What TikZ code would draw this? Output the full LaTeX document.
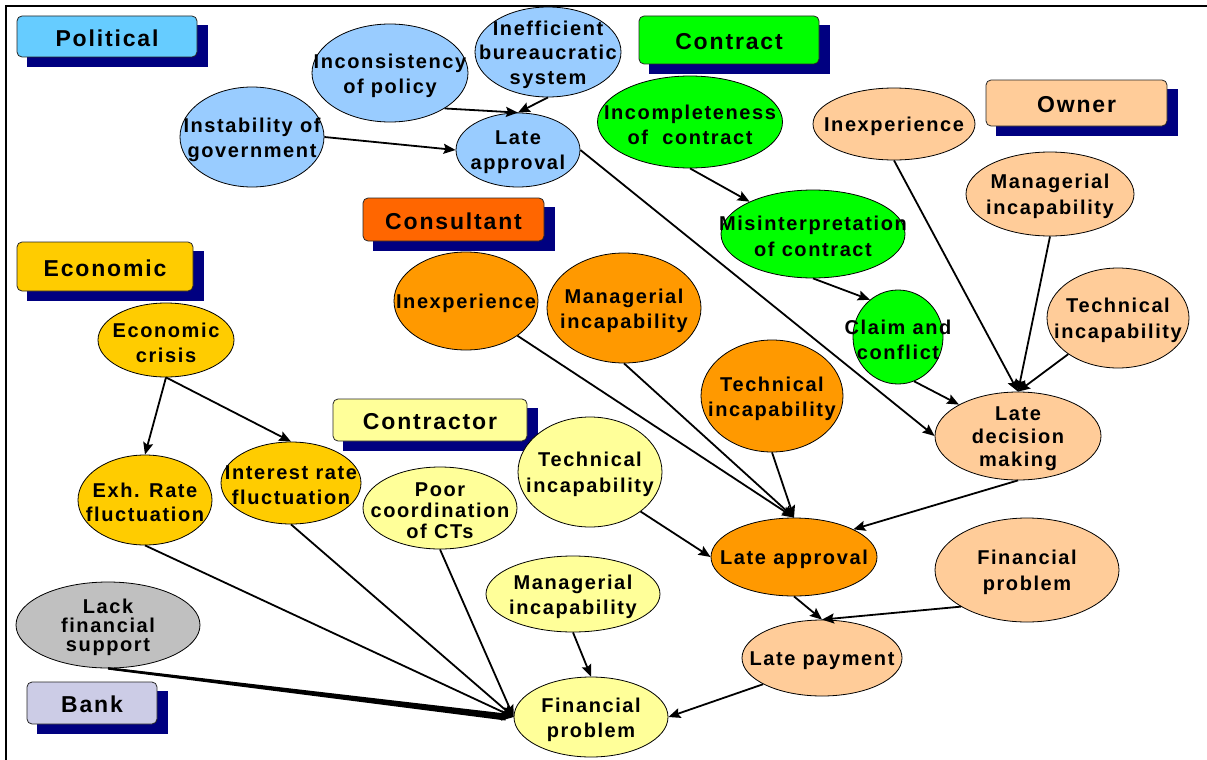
\documentclass[tikz,border=0pt]{standalone}
\usepackage{fontspec}
\setmainfont{Liberation Sans}[LetterSpace=8]
\usetikzlibrary{arrows.meta,shapes.geometric,calc}

\definecolor{navy}{HTML}{000080}
\definecolor{polhdr}{HTML}{66CCFF}
\definecolor{polfill}{HTML}{99CCFF}
\definecolor{contractfill}{HTML}{00FF00}
\definecolor{ownerfill}{HTML}{FFCC99}
\definecolor{conshdr}{HTML}{FF6600}
\definecolor{consfill}{HTML}{FF9900}
\definecolor{econfill}{HTML}{FFCC00}
\definecolor{ctorfill}{HTML}{FFFF99}
\definecolor{bankhdr}{HTML}{CCCCE6}
\definecolor{bankfill}{HTML}{C0C0C0}

% category header: name, colour, x1, y1, x2, y2, text
\newcommand\header[7]{%
  \fill[navy] (#3+10,#4+9) rectangle (#5+11,#6+10);
  \node[hdr, fill=#2, minimum width=#5pt-#3pt, minimum height=#6pt-#4pt,
    label={[htxt]center:#7}] (#1) at ({(#3+#5)/2},{(#4+#6)/2}) {};}

% factor bubble: [text options] name, colour, centre, width, height, text
\newcommand\bubble[7][]{%
  \node[oval, fill=#3, minimum width=#5pt, minimum height=#6pt,
    label={[txt,#1]center:#7}] (#2) at (#4) {};}

\begin{document}
\begin{tikzpicture}[x=1pt,y=-1pt,
  hdr/.style={draw=black!85, line width=0.8pt, rounded corners=5pt, inner sep=0pt},
  htxt/.style={inner sep=0pt, yshift=-1.5pt, font=\fontsize{23}{27}\selectfont\bfseries},
  oval/.style={ellipse, draw=black, line width=0.8pt, inner sep=0pt},
  txt/.style={align=center, inner sep=0pt, yshift=-2.5pt,
    font=\fontsize{20}{25}\selectfont\bfseries},
  arr/.style={line width=1.8pt, -{Stealth[length=12pt,width=10pt,inset=2pt]}},
  ]
\useasboundingbox (0,0) rectangle (1207,760);
\draw[line width=2pt] (1207,6) -- (6,6) -- (6,760);

% headers
\header{hpol}{polhdr}{17}{16}{197}{57}{Political}
\header{hcontract}{contractfill}{639}{16}{819}{64}{Contract}
\header{howner}{ownerfill}{986}{80}{1167}{126}{Owner}
\header{hcons}{conshdr}{363}{198}{544}{241}{Consultant}
\header{hecon}{econfill}{17}{242}{193}{291}{Economic}
\header{hctor}{ctorfill}{333}{399}{527}{441}{Contractor}
\header{hbank}{bankhdr}{27}{682}{157}{724}{Bank}

% political
\bubble{incon}{polfill}{390,73}{156}{98}{Inconsistency\\of policy}
\bubble[font=\fontsize{20}{24.5}\selectfont\bfseries]{ineff}{polfill}{548,52}{146}{90}{Inefficient\\bureaucratic\\system}
\bubble{instab}{polfill}{252,137}{144}{100}{Instability of\\government}
\bubble{lap}{polfill}{518,150}{124}{74}{Late\\approval}

% contract
\bubble{incomp}{contractfill}{690,122}{185}{92}{Incompleteness\\of\ \ contract}
\bubble[font=\fontsize{20}{26}\selectfont\bfseries]{misint}{contractfill}{813,234}{184}{88}{Misinterpretation\\of contract}
\bubble{claim}{contractfill}{898,337}{90}{94}{Claim and\\conflict}

% owner
\bubble{oinexp}{ownerfill}{894,124}{162}{72}{Inexperience}
\bubble[font=\fontsize{20}{26}\selectfont\bfseries]{omanag}{ownerfill}{1050,194}{168}{84}{Managerial\\incapability}
\bubble[font=\fontsize{20}{26}\selectfont\bfseries]{otech}{ownerfill}{1118,318}{142}{100}{Technical\\incapability}
\bubble[font=\fontsize{20}{23}\selectfont\bfseries]{ldm}{ownerfill}{1018,436}{166}{88}{Late\\decision\\making}
\bubble[font=\fontsize{20}{26}\selectfont\bfseries]{ofin}{ownerfill}{1027,570}{184}{104}{Financial\\problem}
\bubble{lpay}{ownerfill}{822,658}{160}{76}{Late payment}

% consultant
\bubble{cinexp}{consfill}{466,301}{144}{98}{Inexperience}
\bubble{cmanag}{consfill}{624,308}{154}{110}{Managerial\\incapability}
\bubble{ctech}{consfill}{772,396}{142}{112}{Technical\\incapability}
\bubble{lac}{consfill}{794,557}{166}{78}{Late approval}

% economic
\bubble{ecris}{econfill}{166,340}{136}{74}{Economic\\crisis}
\bubble[font=\fontsize{20}{23.5}\selectfont\bfseries]{exh}{econfill}{145,500}{134}{90}{Exh. Rate\\fluctuation}
\bubble{inter}{econfill}{291,483}{140}{82}{Interest rate\\fluctuation}

% contractor
\bubble[font=\fontsize{20}{21}\selectfont\bfseries]{poor}{ctorfill}{440,508}{154}{82}{Poor\\coordination\\of CTs}
\bubble[font=\fontsize{20}{26}\selectfont\bfseries]{ktech}{ctorfill}{590,472}{144}{110}{Technical\\incapability}
\bubble{kmanag}{ctorfill}{573,594}{174}{76}{Managerial\\incapability}
\bubble{kfin}{ctorfill}{591,717}{154}{80}{Financial\\problem}

% bank
\bubble[font=\fontsize{20}{19}\selectfont\bfseries]{lack}{bankfill}{108,625}{184}{86}{Lack\\financial\\support}

% causal links
\draw[arr] (incon.-33) -- (lap.north);
\draw[arr] (ineff.south) -- (lap.north);
\draw[arr] (instab.east) -- (lap.west);
\draw[arr] (lap.east) -- (ldm.west);
\draw[arr] (incomp.south) -- (misint.153);
\draw[arr] (misint.south) -- (claim.127);
\draw[arr] (claim.-70) -- (ldm.152);
\draw[arr] (oinexp.south) -- (ldm.north);
\draw[arr] (omanag.south) -- (ldm.north);
\draw[arr] (otech.-144) -- (ldm.north);
\draw[arr] (ldm.south) -- (lac.25);
\draw[arr] (cinexp.-34) -- (lac.north);
\draw[arr] (cmanag.south) -- (lac.north);
\draw[arr] (ctech.south) -- (lac.north);
\draw[arr] (ktech.-38) -- (lac.west);
\draw[arr] (lac.south) -- (lpay.north);
\draw[arr] (ofin.-151) -- (lpay.north);
\draw[arr] (lpay.-156) -- (kfin.east);
\draw[arr] (kmanag.south) -- (kfin.north);
\draw[arr] (poor.south) -- (kfin.west);
\draw[arr] (inter.south) -- (kfin.west);
\draw[arr] (exh.south) -- (kfin.west);
\draw[arr] (ecris.south) -- (exh.north);
\draw[arr] (ecris.south) -- (inter.north);
% the bank link widens towards its head
\fill ($(lack.south)+(0,-1.2)$) -- ($(kfin.west)+(-8,-3.5)$)
  -- ($(kfin.west)+(-8,3.5)$) -- ($(lack.south)+(0,1.2)$) -- cycle;
\draw[arr] (lack.south) -- (kfin.west);
\end{tikzpicture}
\end{document}
